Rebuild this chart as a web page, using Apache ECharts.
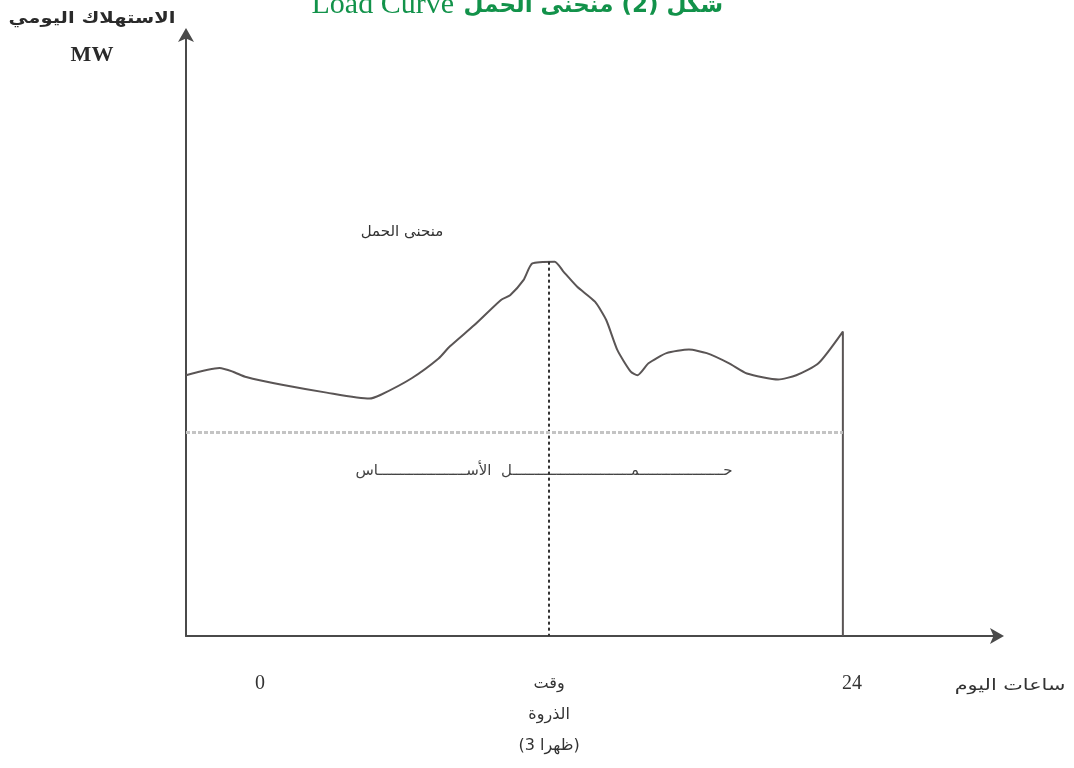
<!DOCTYPE html>
<html>
<head>
<meta charset="utf-8">
<script src="https://cdn.jsdelivr.net/npm/echarts@6/dist/echarts.min.js"></script>
<style>
  html, body { margin: 0; padding: 0; background: #fff; }
  #chart-container { width: 1074px; height: 768px; }
</style>
</head>
<body>
<div id="chart-container"></div>
<script>
// load curve (x in hours, y in MW, schematic units)
const hours = [-3.0, -1.64, -1.1, -0.56, 0.89, 2.7, 4.43, 4.88, 6.15, 7.24, 7.69, 8.69, 9.77, 10.14, 10.68, 11.04, 11.95, 12.31, 12.86, 13.58, 14.04, 14.49, 15.03, 15.3, 15.75, 16.48, 17.39, 18.11, 19.02, 19.74, 21.01, 21.74, 22.64, 23.63, 23.63];
const load = [43.6, 44.8, 44.2, 43.3, 42.0, 40.7, 39.7, 40.3, 43.1, 46.4, 48.4, 52.0, 56.2, 57.0, 59.5, 62.3, 62.6, 60.9, 58.4, 55.9, 52.8, 47.8, 44.2, 43.6, 45.6, 47.3, 47.9, 47.3, 45.6, 43.9, 42.9, 43.6, 45.6, 50.9, 0];
const baseLoad = 34.1;
const peakHour = 11.72;
const peakLoad = 62.6;
const tickValues = [0, peakHour, 24];
const tickLabels = ["{d|0}", "{a|وقت}\n{a|الذروة}\n{a|(3 ظهرا)}", "{d|24}"];

let dom = document.getElementById("chart-container");
let myChart = echarts.init(dom, null, { renderer: "canvas" });

let option = {
    animation: false,
    backgroundColor: "#fff",
    grid: { left: 186, right: 74, top: 38, bottom: 132 },
    graphic: [
        {
            type: "text", x: 454, y: -10,
            style: { text: "Load Curve", font: "30px 'Liberation Serif'", fill: "#12924a", align: "right" }
        },
        {
            type: "text", x: 723, y: -5,
            style: { text: "شكل (2) منحنى الحمل", font: "bold 23px 'DejaVu Sans'", fill: "#12924a", align: "right" }
        },
        {
            type: "text", x: 92, y: 19, scaleX: 1.22,
            style: { text: "الاستهلاك اليومي", font: "bold 16px 'DejaVu Sans'", fill: "#2a2a2a", align: "center", verticalAlign: "middle" }
        },
        {
            type: "text", x: 92, y: 55,
            style: { text: "MW", font: "bold 22px 'Liberation Serif'", fill: "#2a2a2a", align: "center", verticalAlign: "middle" }
        },
        {
            type: "text", x: 402, y: 232,
            style: { text: "منحنى الحمل", font: "15px 'DejaVu Sans'", fill: "#333", align: "center", verticalAlign: "middle" }
        },
        {
            type: "text", x: 544, y: 471,
            style: { text: "حـــــــــــــــــــمـــــــــــــــــــــــــــل  الأســــــــــــــــــــاس", font: "15px 'DejaVu Sans'", fill: "#444", align: "center", verticalAlign: "middle" }
        },
        {
            type: "text", x: 1010, y: 686, scaleX: 1.3,
            style: { text: "ساعات اليوم", font: "16px 'DejaVu Sans'", fill: "#333", align: "center", verticalAlign: "middle" }
        }
    ],
    xAxis: {
        type: "value",
        min: -3,
        max: 30,
        splitLine: { show: false },
        axisTick: { show: false },
        axisLine: {
            lineStyle: { color: "#4a4a4a", width: 2 },
            symbol: ["none", "arrow"],
            symbolSize: [12, 14],
            symbolOffset: [0, 4]
        },
        axisLabel: {
            customValues: tickValues,
            formatter: function (v) {
                let i = tickValues.indexOf(v);
                return i >= 0 ? tickLabels[i] : "";
            },
            margin: 32,
            lineHeight: 31,
            color: "#333",
            rich: {
                d: { fontSize: 20, fontFamily: "Liberation Serif", lineHeight: 31, color: "#333" },
                a: { fontSize: 16, fontFamily: "DejaVu Sans", lineHeight: 31, color: "#333" }
            }
        }
    },
    yAxis: {
        type: "value",
        min: 0,
        max: 100,
        splitLine: { show: false },
        axisTick: { show: false },
        axisLabel: { show: false },
        axisLine: {
            onZero: false,
            lineStyle: { color: "#4a4a4a", width: 2 },
            symbol: ["none", "arrow"],
            symbolSize: [12, 14],
            symbolOffset: [0, 10]
        }
    },
    series: [
        {
            name: "منحنى الحمل",
            type: "line",
            data: hours.map((h, i) => [h, load[i]]),
            smooth: 0.2,
            showSymbol: false,
            lineStyle: { color: "#5a5555", width: 2 },
            markLine: {
                silent: true,
                symbol: ["none", "none"],
                label: { show: false },
                data: [
                    [
                        { coord: [peakHour, peakLoad], lineStyle: { color: "#333", width: 2, type: [3, 3] } },
                        { coord: [peakHour, 0] }
                    ],
                    [
                        { coord: [hours[0], baseLoad], lineStyle: { color: "#c4c4c4", width: 3, type: [4, 2] } },
                        { coord: [hours[hours.length - 1], baseLoad] }
                    ]
                ]
            }
        }
    ]
};

myChart.setOption(option);
window.addEventListener("resize", myChart.resize);
</script>
</body>
</html>
